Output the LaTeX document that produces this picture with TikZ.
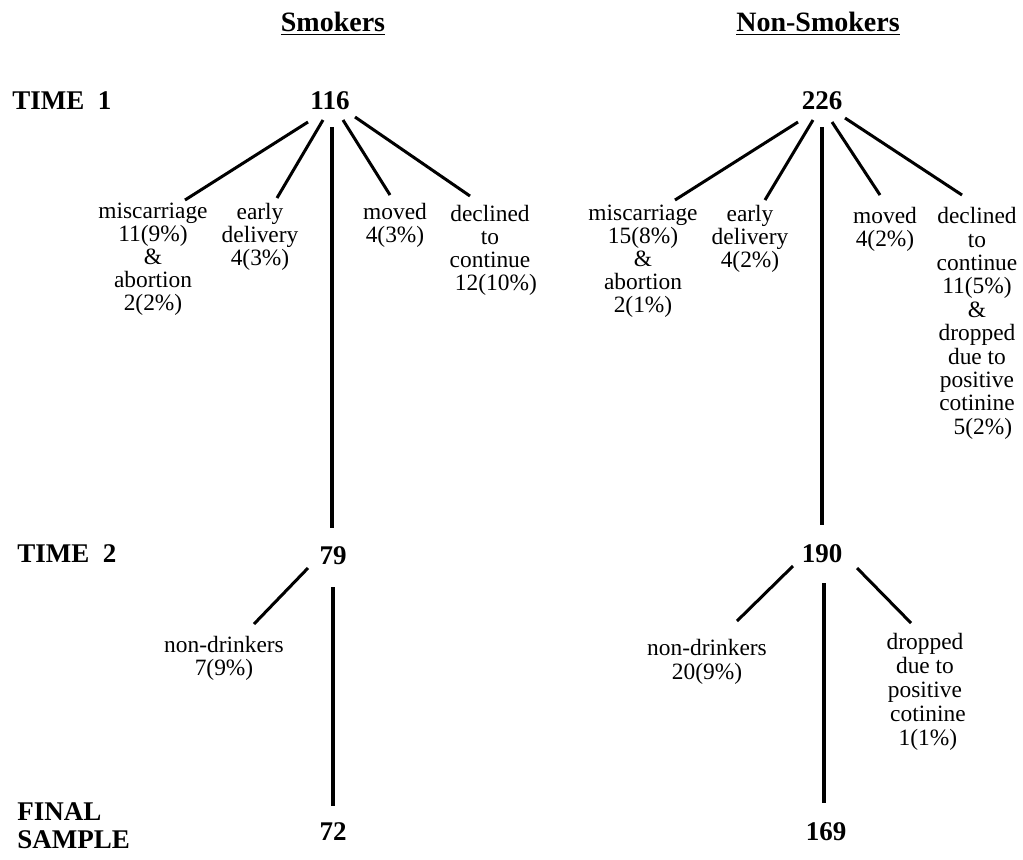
\documentclass[tikz,border=0pt]{standalone}
\usepackage{fontspec}
\setmainfont{Liberation Serif}
\begin{document}
\begin{tikzpicture}[x=0.5pt,y=-0.5pt,
  num/.style={font=\fontsize{13.5}{14}\selectfont\bfseries, inner sep=0pt, anchor=base},
  head/.style={font=\fontsize{14}{14}\selectfont\bfseries, inner sep=0pt, anchor=base},
  rowlab/.style={font=\fontsize{13.5}{14}\selectfont\bfseries, inner sep=0pt, anchor=base west, align=left},
  lab/.style={font=\fontsize{11.7}{11.5}\selectfont, align=center, inner sep=0pt, anchor=north},
  branch/.style={line width=1.5pt},
  trunk/.style={line width=2pt}]
\useasboundingbox (0,0) rectangle (1023,859);

% headers
\node[head] (hS) at (333,31) {\underline{Smokers}};
\node[head] (hN) at (818,31) {\underline{Non-Smokers}};

% row labels
\node[rowlab] (t1) at (12,109) {TIME\ \ 1};
\node[rowlab] (t2) at (17,562) {TIME\ \ 2};
\node[rowlab, anchor=north west] (fin) at (17,802) {FINAL\\SAMPLE};

% numbers
\node[num] (n116) at (330,109) {116};
\node[num] (n226) at (822,109) {226};
\node[num] (n79)  at (333,564) {79};
\node[num] (n190) at (822,562) {190};
\node[num] (n72)  at (333,840) {72};
\node[num] (n169) at (826,840) {169};

% smokers labels (north = first baseline - 16)
\node[lab] (sMis) at (153,203) {miscarriage\\11(9\%)\\\&\\abortion\\2(2\%)};
\node[lab] (sEarly) at (260,203) {early\\delivery\\4(3\%)};
\node[lab] (sMoved) at (395,203) {moved\\4(3\%)};
\node[lab] (sDecl) at (490,205) {declined\\to\\continue\\\ \ 12(10\%)};
\node[lab] (sND) at (224,636) {non-drinkers\\7(9\%)};

% non-smokers labels
\node[lab] (nMis) at (643,205) {miscarriage\\15(8\%)\\\&\\abortion\\2(1\%)};
\node[lab] (nEarly) at (750,205) {early\\delivery\\4(2\%)};
\node[lab] (nMoved) at (885,207) {moved\\4(2\%)};
\node[lab, font=\fontsize{11.7}{11.7}\selectfont] (nDecl) at (977,207) {declined\\to\\continue\\11(5\%)\\\&\\dropped\\due to\\positive\\cotinine\\\ \ 5(2\%)};
\node[lab, font=\fontsize{11.7}{12}\selectfont] (nND) at (707,639) {non-drinkers\\20(9\%)};
\node[lab, font=\fontsize{11.7}{12}\selectfont] (nDrop) at (925,633) {dropped\\due to\\positive\\\ cotinine\\\ 1(1\%)};

% connector end points
\coordinate (a1) at (308,122); \coordinate (b1) at (185,200);
\coordinate (a2) at (323,120); \coordinate (b2) at (277,198);
\coordinate (a3) at (332,127); \coordinate (b3) at (332,528);
\coordinate (a4) at (343,120); \coordinate (b4) at (390,195);
\coordinate (a5) at (355,117); \coordinate (b5) at (470,196);
\coordinate (a6) at (308,568); \coordinate (b6) at (254,624);
\coordinate (a7) at (333,587); \coordinate (b7) at (333,806);

\coordinate (c1) at (798,122); \coordinate (d1) at (675,200);
\coordinate (c2) at (813,120); \coordinate (d2) at (765,200);
\coordinate (c3) at (822,127); \coordinate (d3) at (822,525);
\coordinate (c4) at (832,122); \coordinate (d4) at (880,195);
\coordinate (c5) at (845,118); \coordinate (d5) at (962,195);
\coordinate (c6) at (793,566); \coordinate (d6) at (737,621);
\coordinate (c7) at (857,568); \coordinate (d7) at (911,623);
\coordinate (c8) at (824,583); \coordinate (d8) at (824,803);

\draw[branch] (a1) -- (b1);
\draw[branch] (a2) -- (b2);
\draw[trunk]  (a3) -- (b3);
\draw[branch] (a4) -- (b4);
\draw[branch] (a5) -- (b5);
\draw[branch] (a6) -- (b6);
\draw[trunk]  (a7) -- (b7);

\draw[branch] (c1) -- (d1);
\draw[branch] (c2) -- (d2);
\draw[trunk]  (c3) -- (d3);
\draw[branch] (c4) -- (d4);
\draw[branch] (c5) -- (d5);
\draw[branch] (c6) -- (d6);
\draw[branch] (c7) -- (d7);
\draw[trunk]  (c8) -- (d8);
\end{tikzpicture}
\end{document}
